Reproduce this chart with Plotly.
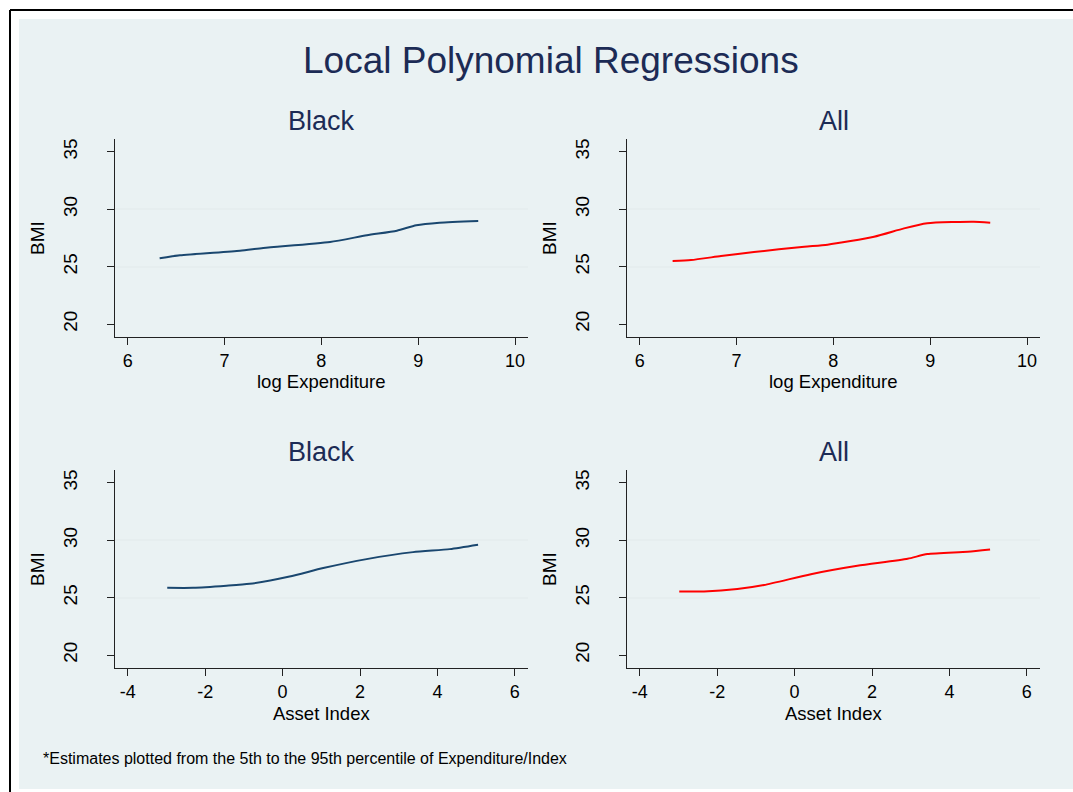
import plotly.graph_objects as go

W, H = 1073, 792

# Local polynomial fits of BMI, read at evenly spread support points
exp_black_x = [6.33, 6.54, 7.16, 7.40, 8.09, 8.47, 8.78, 8.98, 9.22, 9.62]
exp_black_y = [25.73, 25.99, 26.39, 26.63, 27.15, 27.74, 28.14, 28.61, 28.83, 28.98]

exp_all_x = [6.34, 6.53, 6.84, 7.18, 7.70, 7.94, 8.42, 8.73, 8.97, 9.25, 9.45, 9.62]
exp_all_y = [25.50, 25.58, 25.93, 26.28, 26.74, 26.92, 27.61, 28.34, 28.78, 28.89, 28.92, 28.83]

asset_black_x = [-2.98, -2.31, -1.45, -0.85, 0.18, 1.05, 2.17, 3.37, 4.32, 5.05]
asset_black_y = [25.86, 25.86, 26.04, 26.21, 26.85, 27.58, 28.36, 28.97, 29.23, 29.61]

asset_all_x = [-2.98, -2.34, -1.48, -0.79, 0.42, 1.62, 2.92, 3.43, 4.47, 5.05]
asset_all_y = [25.54, 25.54, 25.75, 26.10, 27.05, 27.78, 28.39, 28.80, 29.00, 29.20]

bmi_ticks = [20, 25, 30, 35]
exp_ticks = [6, 7, 8, 9, 10]
asset_ticks = [-4, -2, 0, 2, 4, 6]

NAVY = "#1A476F"
RED = "#FF0000"
TITLE = "#1C2B55"
BG = "#EAF2F3"
FONT = "Liberation Sans, Arial, sans-serif"


def fx(px):
    return px / W


def fy(py):
    return 1 - py / H


# pixel boxes of the four panels: (left, right, top, bottom)
panels = {
    1: (115, 528, 139, 337),
    2: (627, 1040, 139, 337),
    3: (115, 528, 470, 668),
    4: (627, 1040, 470, 668),
}

fig = go.Figure()

series = [
    (1, exp_black_x, exp_black_y, NAVY),
    (2, exp_all_x, exp_all_y, RED),
    (3, asset_black_x, asset_black_y, NAVY),
    (4, asset_all_x, asset_all_y, RED),
]
for i, xs, ys, col in series:
    sfx = "" if i == 1 else str(i)
    fig.add_trace(go.Scatter(
        x=xs, y=ys, mode="lines", line=dict(color=col, width=2, shape="spline", smoothing=0.6),
        xaxis="x" + sfx, yaxis="y" + sfx, showlegend=False, hoverinfo="skip",
    ))

layout = dict(
    width=W, height=H, margin=dict(l=0, r=0, t=0, b=0),
    paper_bgcolor="white", plot_bgcolor="white",
    font=dict(family=FONT, color="black", size=18),
    showlegend=False,
)

for i, (l, r, t, b) in panels.items():
    sfx = "" if i == 1 else str(i)
    if i <= 2:
        xr, xt = [5.869, 10.134], exp_ticks
    else:
        xr, xt = [-4.33, 6.34], asset_ticks
    layout["xaxis" + sfx] = dict(
        domain=[fx(l), fx(r)], range=xr, tickvals=xt,
        ticktext=[str(v) for v in xt],
        ticks="outside", ticklen=7,
        tickcolor="#222", linecolor="#222", linewidth=1, showline=True,
        showgrid=False, zeroline=False, anchor="y" + sfx,
        tickfont=dict(size=18), fixedrange=True,
    )
    layout["yaxis" + sfx] = dict(
        domain=[fy(b), fy(t)], range=[18.88, 36.12], tickvals=bmi_ticks,
        ticktext=[str(v) for v in bmi_ticks],
        ticks="outside", ticklen=7, tickangle=-90, ticklabelstandoff=22,
        tickcolor="#222", linecolor="#222", linewidth=1, showline=True,
        showgrid=False, zeroline=False, anchor="x" + sfx,
        minor=dict(tickvals=[25, 30], showgrid=True, gridcolor="#E6EEEF", gridwidth=2, ticks=""),
        tickfont=dict(size=19), fixedrange=True,
    )

fig.update_layout(**layout)

shapes = [
    dict(type="rect", xref="paper", yref="paper", x0=fx(19), x1=1, y0=fy(789), y1=fy(19),
         fillcolor=BG, line=dict(width=0), layer="below"),
    dict(type="line", xref="paper", yref="paper", x0=fx(10), x1=1, y0=fy(10), y1=fy(10),
         line=dict(color="black", width=2)),
    dict(type="line", xref="paper", yref="paper", x0=fx(10), x1=fx(10), y0=0, y1=fy(10),
         line=dict(color="black", width=2)),
]
fig.update_layout(shapes=shapes)

ann = []
ann.append(dict(text="Local Polynomial Regressions", x=fx(551), y=fy(60), xref="paper", yref="paper",
                showarrow=False, xanchor="center", yanchor="middle",
                font=dict(size=37, color=TITLE, family=FONT)))
sub_titles = {1: "Black", 2: "All", 3: "Black", 4: "All"}
x_titles = {1: "log Expenditure", 2: "log Expenditure", 3: "Asset Index", 4: "Asset Index"}
for i, (l, r, t, b) in panels.items():
    cx = (l + r) / 2
    ann.append(dict(text=sub_titles[i], x=fx(cx), y=fy(t - 18), xref="paper", yref="paper",
                    showarrow=False, xanchor="center", yanchor="middle",
                    font=dict(size=27, color=TITLE, family=FONT)))
    ann.append(dict(text=x_titles[i], x=fx(cx), y=fy(b + 45), xref="paper", yref="paper",
                    showarrow=False, xanchor="center", yanchor="middle",
                    font=dict(size=18.5, color="black", family=FONT)))
    ann.append(dict(text="BMI", x=fx(l - 78), y=fy((t + b) / 2), xref="paper", yref="paper",
                    showarrow=False, xanchor="center", yanchor="middle", textangle=-90,
                    font=dict(size=19, color="black", family=FONT)))
ann.append(dict(text="*Estimates plotted from the 5th to the 95th percentile of Expenditure/Index",
                x=fx(41), y=fy(758), xref="paper", yref="paper", showarrow=False,
                xanchor="left", yanchor="middle", font=dict(size=16, color="black", family=FONT)))
fig.update_layout(annotations=ann)

fig.write_html("out.html", config={"displayModeBar": False})
